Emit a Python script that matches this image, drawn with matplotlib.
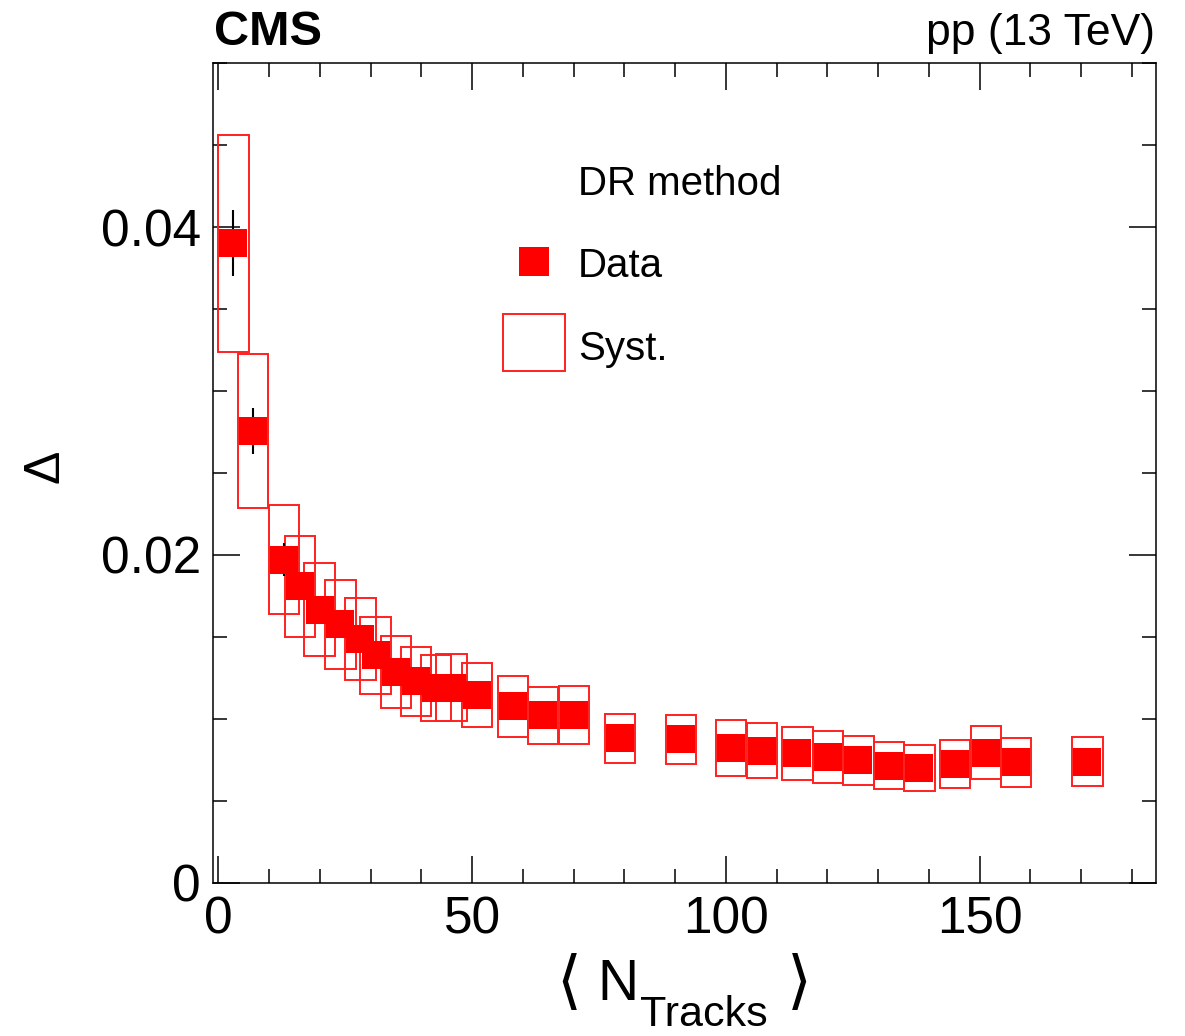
import matplotlib
matplotlib.use('Agg')
import matplotlib.pyplot as plt
from matplotlib.patches import Rectangle
from matplotlib.ticker import MultipleLocator, FuncFormatter

# ---- data ----
n_tracks = [2.95, 6.87, 12.97, 16.05, 19.96, 24.06, 27.97, 31.0, 35.05, 38.98,
            42.9, 45.97, 51.0, 58.05, 63.97, 70.06, 79.1, 91.1, 101.0, 107.1,
            114.1, 120.1, 126.1, 132.1, 138.1, 145.1, 151.2, 157.2, 171.2]
delta = [0.03903, 0.02756, 0.01971, 0.01808, 0.01667, 0.01577, 0.01487, 0.01388,
         0.01284, 0.01228, 0.01188, 0.01190, 0.01147, 0.01076, 0.01023, 0.01025,
         0.00882, 0.00876, 0.00823, 0.00806, 0.00790, 0.00766, 0.00748, 0.00715,
         0.00700, 0.00725, 0.00793, 0.00736, 0.00739]
stat_err = [0.0020, 0.0014, 0.0010, 0.0008, 0.0008, 0.0008, 0.0008, 0.0007,
            0.0007, 0.0007, 0.0007, 0.0007, 0.0007, 0.0007, 0.0007, 0.0007,
            0.0006, 0.0006, 0.0006, 0.0006, 0.0006, 0.0006, 0.0006, 0.0006,
            0.0006, 0.0006, 0.0006, 0.0006, 0.0006]
syst_err = [0.00662, 0.00470, 0.00333, 0.00308, 0.00283, 0.00272, 0.00253, 0.00236,
            0.00221, 0.00208, 0.00204, 0.00204, 0.00196, 0.00185, 0.00174, 0.00178,
            0.00150, 0.00150, 0.00170, 0.00166, 0.00162, 0.00158, 0.00150, 0.00145,
            0.00138, 0.00146, 0.00162, 0.00149, 0.00150]
syst_xhalf = 3.0

plt.rcParams['font.family'] = ['Liberation Sans', 'DejaVu Sans']
W, H = 1185, 1036
fig = plt.figure(figsize=(W / 100, H / 100), dpi=100)
ax = fig.add_axes([213.3 / W, 1 - 882.7 / H, (1156.3 - 213.3) / W, (882.7 - 63.3) / H])
ax.set_xlim(-1, 184.8)
ax.set_ylim(0, 0.05)

for x, y, s in zip(n_tracks, delta, syst_err):
    ax.add_patch(Rectangle((x - syst_xhalf, y - s), 2 * syst_xhalf, 2 * s,
                           fill=False, ec='#ff2020', lw=1.4, zorder=2))
ax.errorbar(n_tracks, delta, yerr=stat_err, fmt='none', ecolor='black',
            elinewidth=1.5, capsize=0, zorder=3)
ax.plot(n_tracks, delta, ls='none', marker='s', ms=20.5, mfc='#ff0000',
        mec='#ff0000', mew=0, zorder=4)

ax.xaxis.set_major_locator(MultipleLocator(50))
ax.xaxis.set_minor_locator(MultipleLocator(10))
ax.yaxis.set_major_locator(MultipleLocator(0.02))
ax.yaxis.set_minor_locator(MultipleLocator(0.005))
ax.yaxis.set_major_formatter(FuncFormatter(lambda v, p: '0' if abs(v) < 1e-9 else '%.2f' % v))
ax.tick_params(which='both', direction='in', top=True, right=True, width=1.1,
               labelsize=37, colors='black')
ax.tick_params(which='major', length=19.5)
ax.tick_params(which='minor', length=10)
ax.tick_params(axis='y', pad=9)
ax.tick_params(axis='x', pad=9)
for sp in ax.spines.values():
    sp.set_linewidth(1.1)

# legend
fig.add_artist(Rectangle((519 / W, 1 - 276 / H), 30 / W, 29 / H, transform=fig.transFigure,
                         fc='#ff0000', ec='none'))
fig.add_artist(Rectangle((503 / W, 1 - 371 / H), 62 / W, 57 / H, transform=fig.transFigure,
                         fill=False, ec='#ff2020', lw=1.4))
fig.text(578 / W, 1 - 195 / H, 'DR method', fontsize=29, va='baseline', ha='left')
fig.text(578 / W, 1 - 276.7 / H, 'Data', fontsize=29, va='baseline', ha='left')
fig.text(578 / W, 1 - 360 / H, 'Syst.', fontsize=29, va='baseline', ha='left')

# headers
fig.text(214 / W, 1 - 45 / H, 'CMS', fontsize=35, weight='bold', va='baseline', ha='left')
fig.text(1155 / W, 1 - 45 / H, 'pp (13 TeV)', fontsize=32, va='baseline', ha='right')

# axis titles
fig.text(45 / W, 1 - 466 / H, 'Δ', fontsize=36, rotation=90, ha='center', va='center')
fig.text(567 / W, 1 - 985 / H, r'$\langle$', fontsize=46, ha='center', va='center')
fig.text(597 / W, 1 - 1000 / H, 'N', fontsize=41, va='baseline', ha='left')
fig.text(640 / W, 1 - 1026 / H, 'Tracks', fontsize=31, va='baseline', ha='left')
fig.text(797 / W, 1 - 985 / H, r'$\rangle$', fontsize=46, ha='center', va='center')

fig.savefig('out.png', dpi=100)
